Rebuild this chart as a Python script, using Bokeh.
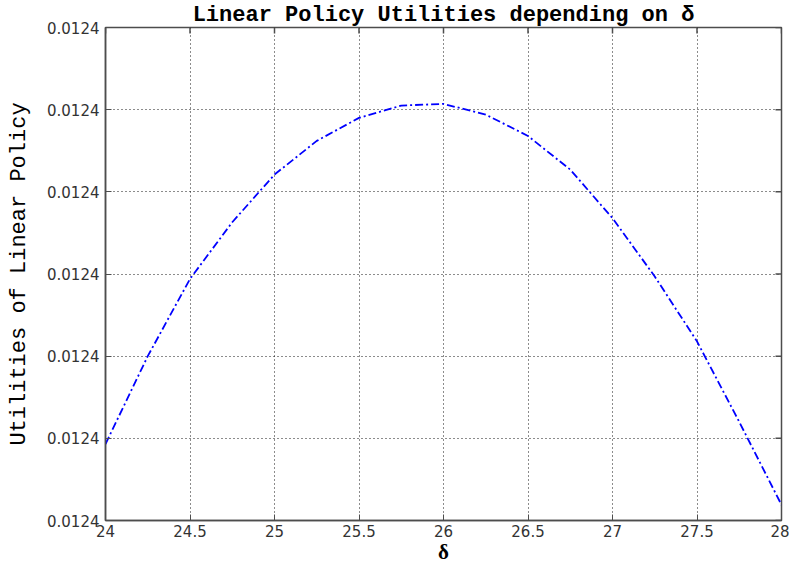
import math
from bokeh.plotting import figure
from bokeh.models import Range1d, FixedTicker, PrintfTickFormatter
from bokeh.embed import file_html
from bokeh.resources import INLINE

# ---- data ----
delta = [24.00, 24.25, 24.50, 24.75, 25.00, 25.25, 25.50, 25.75, 26.00,
         26.25, 26.50, 26.75, 27.00, 27.25, 27.50, 27.75, 28.00]
utility = [0.0124000093, 0.0124000200, 0.0124000294, 0.0124000363, 0.0124000421,
           0.0124000462, 0.0124000490, 0.0124000505, 0.0124000507, 0.0124000494,
           0.0124000468, 0.0124000427, 0.0124000368, 0.0124000297, 0.0124000218,
           0.0124000120, 0.0124000019]

x_ticks = [24, 24.5, 25, 25.5, 26, 26.5, 27, 27.5, 28]
x_tick_labels = ["24", "24.5", "25", "25.5", "26", "26.5", "27", "27.5", "28"]
y_ticks = [0.01240000, 0.01240001, 0.01240002, 0.01240003,
           0.01240004, 0.01240005, 0.01240006]

title_text = "Linear Policy Utilities depending on \u03b4"
y_label_text = "Utilities of Linear Policy"
x_label_text = "\u03b4"

p = figure(width=789, height=566, output_backend="svg", toolbar_location=None,
           x_range=Range1d(x_ticks[0], x_ticks[-1]),
           y_range=Range1d(y_ticks[0], y_ticks[-1]),
           min_border_left=105, min_border_right=8, min_border_top=27,
           min_border_bottom=45)
p.background_fill_color = "white"
p.border_fill_color = "white"
p.outline_line_color = "#4d4d4d"
p.outline_line_width = 1.5

# title
p.title.text = title_text
p.title.align = "center"
p.title.text_font = "Liberation Mono"
p.title.text_font_style = "bold"
p.title.text_font_size = "22px"
p.title.text_color = "black"
p.title.standoff = 0
p.title.offset = 0

axis_col = "#4d4d4d"
lab_col = "#333333"

for ax in (p.xaxis[0], p.yaxis[0]):
    ax.axis_line_color = axis_col
    ax.axis_line_width = 1.5
    ax.major_tick_line_color = axis_col
    ax.major_tick_in = 6
    ax.major_tick_out = 0
    ax.minor_tick_in = 0
    ax.minor_tick_out = 0
    ax.major_label_text_font = "DejaVu Sans"
    ax.major_label_text_font_size = "15px"
    ax.major_label_text_color = lab_col

xa = p.xaxis[0]
xa.ticker = FixedTicker(ticks=x_ticks)
xa.major_label_overrides = dict(zip(x_ticks, x_tick_labels))
xa.major_label_standoff = 4
xa.axis_label = x_label_text
xa.axis_label_text_font = "Liberation Serif"
xa.axis_label_text_font_style = "bold"
xa.axis_label_text_font_size = "21px"
xa.axis_label_text_color = "black"
xa.axis_label_standoff = 0

ya = p.yaxis[0]
ya.ticker = FixedTicker(ticks=y_ticks)
ya.formatter = PrintfTickFormatter(format="%.4f")
ya.major_label_standoff = 6
ya.axis_label = y_label_text
ya.axis_label_text_font = "Liberation Mono"
ya.axis_label_text_font_style = "normal"
ya.axis_label_text_font_size = "22px"
ya.axis_label_text_color = "black"
ya.axis_label_standoff = 12

# grid
p.xgrid.ticker = FixedTicker(ticks=x_ticks)
p.ygrid.ticker = FixedTicker(ticks=y_ticks)
for g in (p.xgrid, p.ygrid):
    g.grid_line_color = "black"
    g.grid_line_width = 1
    g.grid_line_dash = "1 3"
    g.grid_line_alpha = 0.9

# inward tick marks on the top and right edges of the box (half clipped by the frame)
p.scatter(x_ticks, [y_ticks[-1]] * len(x_ticks), marker="dash", angle=math.pi / 2,
          size=12, line_color=axis_col, line_width=1.5)
p.scatter([x_ticks[-1]] * len(y_ticks), y_ticks, marker="dash",
          size=12, line_color=axis_col, line_width=1.5)

# data line
p.line(delta, utility, line_color="#0000ff", line_width=1.8, line_dash="8 3 2 3")

open("out.html", "w").write(file_html(p, INLINE))
